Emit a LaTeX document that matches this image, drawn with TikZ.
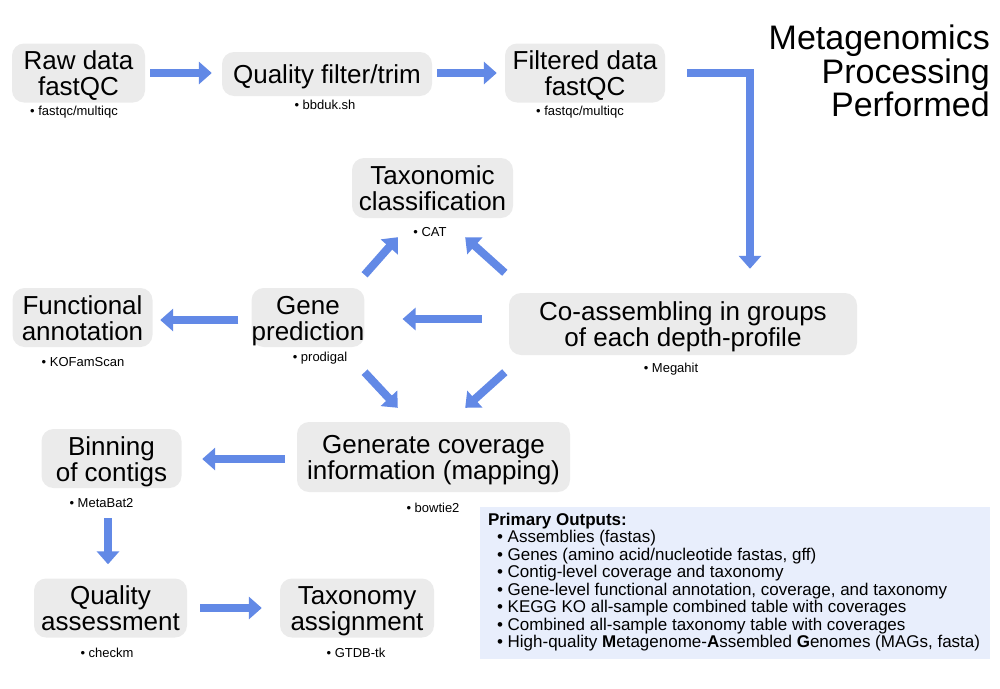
\documentclass[tikz,border=0pt]{standalone}
\usepackage{fontspec}
\setmainfont{Liberation Sans}
\usetikzlibrary{arrows.meta}
\definecolor{boxgray}{RGB}{235,235,235}
\definecolor{flowblue}{RGB}{98,137,230}
\definecolor{outbg}{RGB}{232,238,252}
\newcommand\topgap{\rule{0pt}{26pt}}
\newcommand\botgap{\rule[-7pt]{0pt}{7pt}}
\begin{document}
\begin{tikzpicture}[x=1pt,y=-1pt,
  stepbox/.style={fill=boxgray, rounded corners=12pt, align=center, inner sep=0pt, font=\fontsize{26}{26}\selectfont},
  tool/.style={font=\fontsize{13}{13}\selectfont, inner sep=0pt},
  flow/.style={draw=flowblue, line width=8pt, -{Triangle[width=22pt,length=13pt]}}
]
\useasboundingbox (0,0) rectangle (1000,688);
% main boxes
\node[stepbox, minimum width=133pt, minimum height=59pt] (raw) at (78.5,73) {\topgap Raw data\\fastQC\botgap};
\node[stepbox, minimum width=210pt, minimum height=44pt] (qf) at (327,74) {\topgap Quality filter/trim\botgap};
\node[stepbox, minimum width=160pt, minimum height=59pt] (filt) at (585,73) {\topgap Filtered data\\fastQC\botgap};
\node[stepbox, minimum width=161pt, minimum height=60pt] (tax) at (432.5,188) {\topgap Taxonomic\\classification\botgap};
\node[stepbox, minimum width=104pt, minimum height=59pt] (gene) at (308,317.5) {\topgap Gene\\prediction\botgap};
\node[stepbox, minimum width=140pt, minimum height=58pt] (func) at (82.5,317.5) {\topgap Functional\\annotation\botgap};
\node[stepbox, minimum width=348pt, minimum height=62pt] (co) at (683,324) {\topgap Co-assembling in groups\\of each depth-profile\botgap};
\node[stepbox, minimum width=273pt, minimum height=70pt] (cov) at (433.5,457) {\topgap Generate coverage\\information (mapping)\botgap};
\node[stepbox, minimum width=140pt, minimum height=59pt] (bin) at (111.5,458.5) {\topgap Binning\\of contigs\botgap};
\node[stepbox, minimum width=153pt, minimum height=58pt] (qa) at (110.5,608) {\topgap Quality\\assessment\botgap};
\node[stepbox, minimum width=154pt, minimum height=58pt] (ta) at (357,608) {\topgap Taxonomy\\assignment\botgap};
% tools
\node[tool] (rawtool) at (74,112) {• fastqc/multiqc};
\node[tool] (qftool) at (325,105) {• bbduk.sh};
\node[tool] (filttool) at (580,112) {• fastqc/multiqc};
\node[tool] (taxtool) at (430,232) {• CAT};
\node[tool] (genetool) at (320,358) {• prodigal};
\node[tool] (functool) at (83,362.5) {• KOFamScan};
\node[tool] (cotool) at (671,369) {• Megahit};
\node[tool] (covtool) at (433,508) {• bowtie2};
\node[tool] (bintool) at (101.5,503) {• MetaBat2};
\node[tool] (qatool) at (107,653) {• checkm};
\node[tool] (tatool) at (356,653) {• GTDB-tk};
% title
\node[anchor=north east, align=right, inner sep=0pt, font=\fontsize{34}{33.5}\selectfont] (title) at (990,25) {Metagenomics\\Processing\\Performed};
% outputs
\node[fill=outbg, minimum width=510pt, minimum height=152pt, inner sep=0pt] (out) at (735,583) {};
\node[anchor=north west, align=left, inner sep=0pt, font=\fontsize{17}{17.5}\selectfont] (outtext) at ([shift={(8,6)}]out.north west) {\textbf{Primary Outputs:}\\
\hspace{9pt}• Assemblies (fastas)\\
\hspace{9pt}• Genes (amino acid/nucleotide fastas, gff)\\
\hspace{9pt}• Contig-level coverage and taxonomy\\
\hspace{9pt}• Gene-level functional annotation, coverage, and taxonomy\\
\hspace{9pt}• KEGG KO all-sample combined table with coverages\\
\hspace{9pt}• Combined all-sample taxonomy table with coverages\\
\hspace{9pt}• High-quality \textbf{M}etagenome-\textbf{A}ssembled \textbf{G}enomes (MAGs, fasta)};
% arrows
\draw[flow, shorten <=5pt, shorten >=10pt] (raw.east) -- (raw.east -| qf.west);
\draw[flow, shorten <=5pt, shorten >=8pt] (filt.west -| qf.east) -- (filt.west);
\draw[flow, line join=miter, shorten <=22pt, shorten >=24pt] (filt.east) -| ([xshift=67pt]co.north);
\draw[flow] ([shift={(-4,-20)}]co.north west) -- ([shift={(-48,19)}]tax.south east);
\draw[flow] ([shift={(0,-13)}]gene.north east) -- ([shift={(46,19)}]tax.south west);
\draw[flow] ([shift={(-27,-5)}]co.west) -- ([shift={(38,1.5)}]gene.east);
\draw[flow] ([shift={(0,25)}]gene.south east) -- ([shift={(101,-14)}]cov.north west);
\draw[flow] ([shift={(-4,17)}]co.south west) -- ([shift={(-105,-14)}]cov.north east);
\draw[flow] ([shift={(-13,2.5)}]gene.west) -- ([shift={(7.5,2.5)}]func.east);
\draw[flow] ([shift={(-12,2)}]cov.west) -- ([shift={(20.5,0.5)}]bin.east);
\draw[flow] ([shift={(-3.5,30)}]bin.south) -- ([shift={(-2.5,-14)}]qa.north);
\draw[flow] ([shift={(13,0)}]qa.east) -- ([shift={(-18,0)}]ta.west);
\end{tikzpicture}
\end{document}
